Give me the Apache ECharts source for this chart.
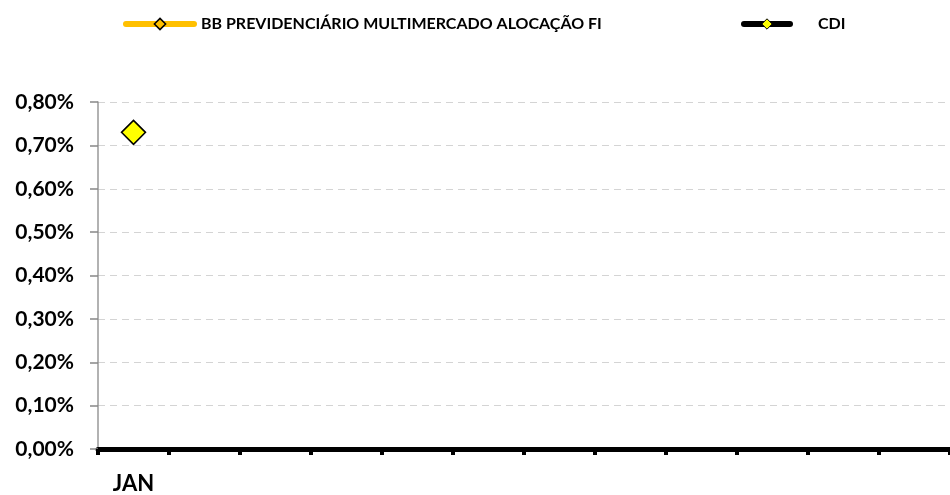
<!DOCTYPE html>
<html>
<head>
<meta charset="utf-8">
<script src="https://cdn.jsdelivr.net/npm/echarts@6/dist/echarts.min.js"></script>
<style>
  html, body { margin: 0; padding: 0; background: #fff; }
  #chart { width: 950px; height: 495px; }
</style>
</head>
<body>
<div id="chart"></div>
<script>
// meses (só JAN tem rótulo no original)
const months = ['JAN', '', '', '', '', '', '', '', '', '', '', '']
// rentabilidade mensal, em %
const bbValues = [null, null, null, null, null, null, null, null, null, null, null, null]
const cdiValues = [0.73, null, null, null, null, null, null, null, null, null, null, null]
const yTicks = [0, 0.8, 0.1] // min, max, intervalo

const bbName = 'BB PREVIDENCIÁRIO MULTIMERCADO ALOCAÇÃO FI'
const cdiName = 'CDI'

const font = 'Lato, "Noto Sans", sans-serif'

const chart = echarts.init(document.getElementById('chart'))
const option = {
  animation: false,
  textStyle: { fontFamily: font },
  legend: [
    {
      data: [bbName],
      left: 123,
      top: 16,
      padding: 0,
      itemWidth: 68,
      itemHeight: 14,
      itemGap: 0,
      lineStyle: { width: 6, cap: 'round' },
      itemStyle: { borderWidth: 1.5 },
      textStyle: { fontSize: 16, fontWeight: 'bold', color: '#000', fontFamily: font, padding: [0, 0, 0, 2] }
    },
    {
      data: [cdiName],
      left: 741,
      top: 16,
      padding: 0,
      itemWidth: 46,
      itemHeight: 13,
      lineStyle: { width: 6, cap: 'round' },
      itemStyle: { borderWidth: 1 },
      textStyle: { fontSize: 16, fontWeight: 'bold', color: '#000', fontFamily: font, padding: [0, 0, 0, 23] }
    }
  ],
  grid: { left: 98, right: 0, top: 102, bottom: 45 },
  xAxis: {
    type: 'category',
    data: months,
    boundaryGap: true,
    axisLine: { lineStyle: { color: '#000', width: 5 } },
    axisTick: { show: true, length: 6, lineStyle: { color: '#000', width: 4 } },
    axisLabel: { color: '#000', fontSize: 22, fontWeight: 'bold', margin: 24, fontFamily: font, interval: 0 },
    splitLine: { show: false }
  },
  yAxis: {
    type: 'value',
    min: yTicks[0],
    max: yTicks[1],
    interval: yTicks[2],
    axisLine: { show: true, lineStyle: { color: '#999', width: 1.5 } },
    axisTick: { show: true, length: 8, lineStyle: { color: '#888', width: 1.5 } },
    axisLabel: {
      color: '#000',
      fontSize: 21,
      fontWeight: 'bold',
      margin: 24,
      fontFamily: font,
      formatter: v => v.toFixed(2).replace('.', ',') + '%'
    },
    splitLine: { lineStyle: { color: '#d4d4d4', type: [7, 5], width: 1.2 } }
  },
  series: [
    {
      name: bbName,
      type: 'line',
      data: bbValues,
      symbol: 'diamond',
      symbolSize: 24,
      itemStyle: { color: '#FFC000', borderColor: '#000', borderWidth: 1.5 },
      lineStyle: { color: '#FFC000', width: 6, cap: 'round' }
    },
    {
      name: cdiName,
      type: 'line',
      data: cdiValues,
      symbol: 'diamond',
      symbolSize: 24,
      itemStyle: { color: '#FFFF00', borderColor: '#000', borderWidth: 1.5 },
      lineStyle: { color: '#000', width: 6, cap: 'round' }
    }
  ]
}
option && chart.setOption(option)
</script>
</body>
</html>
